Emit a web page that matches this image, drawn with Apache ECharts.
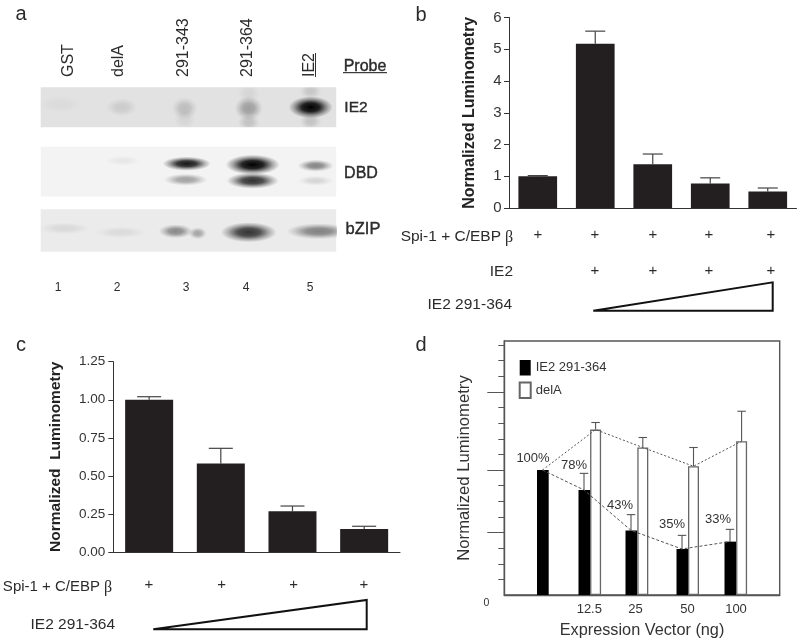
<!DOCTYPE html>
<html><head><meta charset="utf-8">
<script src="https://cdn.jsdelivr.net/npm/echarts@6/dist/echarts.min.js"></script>
<style>html,body{margin:0;padding:0;background:#fff}#c{width:800px;height:644px}</style></head>
<body><div id="c"></div>
<script>
// ---------- DATA ----------
// Panel a: lanes, probes and bands [x, y, rx, ry, darkness] per probe blot
const laneLabels = ['GST', 'delA', '291-343', '291-364', 'IE2'];
const laneNumbers = ['1', '2', '3', '4', '5'];
const probeLabels = ['IE2', 'DBD', 'bZIP'];
const bandsIE2 = [
  [20, 17, 24, 9, .03], [81, 20, 16, 9, .1], [144, 21, 13, 11, .16], [144, 32, 11, 10, .06],
  [208, 21, 14, 12, .3], [208, 6, 11, 9, .06], [208, 35, 11, 8, .14],
  [270, 20, 22, 11, 1], [270, 4, 11, 8, .12], [270, 34, 11, 8, .14]
];
const bandsDBD = [
  [82, 14, 18, 5, .05], [146, 17, 24, 7, .9], [145, 33, 22, 6, .33],
  [212, 18, 27, 10, 1], [212, 34, 26, 8, .8], [275, 19, 18, 6, .45], [275, 34, 18, 5, .12]
];
const bandsBZIP = [
  [24, 19, 26, 6, .08], [80, 23, 26, 6, .07], [135, 22, 17, 7, .42], [157, 24, 9, 6, .3],
  [208, 23, 28, 10, .78], [278, 22, 32, 8, .45]
];
// Panel b
const catsB = ['s1', 's2', 's3', 's4', 's5'];
const valuesB = [1.0, 5.17, 1.38, 0.77, 0.52];
const errTopB = [1.02, 5.57, 1.70, 0.95, 0.63];
const ticksB = ['0', '1', '2', '3', '4', '5', '6'];
const spiRowB = ['+', '+', '+', '+', '+'];
const ie2RowB = ['', '+', '+', '+', '+'];
// Panel c
const catsC = ['s1', 's2', 's3', 's4'];
const valuesC = [1.0, 0.582, 0.267, 0.151];
const errTopC = [1.02, 0.681, 0.302, 0.169];
const spiRowC = ['+', '+', '+', '+'];
// Panel d
const doseLabels = ['12.5', '25', '50', '100'];
const blackValues = [100, 84, 51.7, 36.8, 42.7];
const blackErrTop = [100, 97.3, 64.3, 47.7, 52.5];
const whiteValues = [132.3, 118, 103, 123];
const whiteErrTop = [138, 126, 118, 147];
const percentLabels = ['100%', '78%', '43%', '35%', '33%'];
const majorTicksD = [50, 100, 162.5];
const minorTicksD = [12.5, 25, 37.5, 62.5, 75, 87.5, 112.5, 125, 137.5, 150, 175, 187.5, 200];

// ---------- LAYOUT (pixels / axis slots, not data) ----------
const slotsBlackD = [38.2, 79.7, 126.7, 177.7, 225.7];
const slotsWhiteD = [91.3, 138.5, 189.2, 237.3];
const slotsLabelD = [85, 131.3, 183.3, 231.7];
const laneLabelX = [69, 119, 184, 248, 310];
const laneNumX = [58, 117, 186, 246, 310];
const plusXB = [538, 595, 653, 709, 771];
const plusXC = [149, 221.7, 293.7, 364];
const percentXY = [[533, 458], [574, 465], [620, 505], [672, 524], [718, 519]];

const FONT = '"Liberation Sans", Arial, sans-serif';
const TXT = '#2b2b2b';
const HEAVY = {style: {stroke: TXT, lineWidth: 0.4}};

function bandItem(params, api) {
  const c = api.coord([api.value(0), api.value(1)]);
  const s = api.size([api.value(2), api.value(3)]);
  const d = api.value(4);
  return {
    type: 'circle', shape: {cx: 0, cy: 0, r: 1}, x: c[0], y: c[1], scaleX: s[0], scaleY: s[1],
    style: {fill: {type: 'radial', x: .5, y: .5, r: .5, colorStops: [
      {offset: 0, color: 'rgba(0,0,0,' + d + ')'},
      {offset: .4, color: 'rgba(0,0,0,' + d * .85 + ')'},
      {offset: .75, color: 'rgba(0,0,0,' + d * .3 + ')'},
      {offset: 1, color: 'rgba(0,0,0,0)'}]}}
  };
}
function errItem(capW, color, lw) {
  return function (params, api) {
    const a = api.coord([api.value(0), api.value(1)]);
    const b = api.coord([api.value(0), api.value(2)]);
    const st = {stroke: color, lineWidth: lw, fill: null};
    return {type: 'group', children: [
      {type: 'line', shape: {x1: a[0], y1: a[1], x2: b[0], y2: b[1]}, style: st},
      {type: 'line', shape: {x1: b[0] - capW / 2, y1: b[1], x2: b[0] + capW / 2, y2: b[1]}, style: st}
    ]};
  };
}
function T(x, y, text, size, o) {
  return Object.assign({type: 'text', x, y, silent: true, style: Object.assign({
    text, font: size + 'px ' + FONT, fill: TXT,
    align: 'center', verticalAlign: 'middle'}, o && o.style)}, o && o.el);
}
function L(x1, y1, x2, y2, w, c) {
  return {type: 'line', silent: true, shape: {x1, y1, x2, y2}, style: {stroke: c || '#111', lineWidth: w}};
}
function tri(p1, p2, p3) {
  return {type: 'polygon', silent: true, shape: {points: [p1, p2, p3]}, style: {fill: '#fff', stroke: '#111', lineWidth: 2}};
}

const graphics = [
  T(21, 14, 'a', 20), T(421, 15, 'b', 20), T(21, 345, 'c', 20), T(421, 345, 'd', 20),
  T(365, 67, 'Probe', 16, HEAVY), L(343, 72.7, 387, 72.7, 1),
  L(315.5, 53, 315.5, 77, 1, '#333'),
  T(356, 108, probeLabels[0], 15.5, HEAVY), T(361, 174, probeLabels[1], 16, HEAVY), T(363, 229, probeLabels[2], 16.5, HEAVY),
  // panel b rows
  T(501, 237, 'Spi-1 + C/EBP', 15.5, {style: {align: 'right'}}),
  T(505, 238, 'β', 16, {style: {align: 'left', font: '16px "Liberation Serif", serif'}}),
  T(513, 272, 'IE2', 15.5, {style: {align: 'right'}}),
  T(512, 305, 'IE2 291-364', 15.5, {style: {align: 'right'}}),
  tri([593.3, 310.7], [772.7, 282.3], [772.7, 310.7]),
  // panel c rows
  T(100, 587, 'Spi-1 + C/EBP', 15, {style: {align: 'right'}}),
  T(104, 588, 'β', 16, {style: {align: 'left', font: '16px "Liberation Serif", serif'}}),
  T(115, 625, 'IE2 291-364', 15.5, {style: {align: 'right'}}),
  tri([153.3, 629.3], [366.7, 600], [366.7, 629.3])
];
laneLabels.forEach((s, i) => graphics.push(T(laneLabelX[i], 77, s, 16, {style: {align: 'left'}, el: {rotation: Math.PI / 2}})));
laneNumbers.forEach((s, i) => graphics.push(T(laneNumX[i], 288, s, 12)));
spiRowB.forEach((s, i) => graphics.push(T(plusXB[i], 235, s, 15)));
ie2RowB.forEach((s, i) => s && graphics.push(T(plusXB[i], 271, s, 15)));
spiRowC.forEach((s, i) => graphics.push(T(plusXC[i], 585, s, 15)));
percentLabels.forEach((s, i) => graphics.push(T(percentXY[i][0], percentXY[i][1], s, 13, {style: {fill: '#333'}})));

const hiddenAxis = (max, inverse) => ({type: 'value', min: 0, max, inverse: !!inverse, show: false});
const axisLine = {show: true, onZero: false, lineStyle: {color: '#333', width: 1}};

const option = {
  animation: false,
  backgroundColor: '#fff',
  textStyle: {fontFamily: FONT},
  grid: [
    {left: 40.7, top: 87.3, width: 295.5, height: 40, show: true, backgroundColor: '#e2e2e2', borderWidth: 0},
    {left: 40.7, top: 146.7, width: 295.5, height: 49.7, show: true, backgroundColor: '#f3f3f3', borderWidth: 0},
    {left: 40.7, top: 209.3, width: 295.5, height: 42.4, show: true, backgroundColor: '#ebebeb', borderWidth: 0},
    {left: 509, top: 17.5, width: 287.5, height: 190.5},
    {left: 113.3, top: 361.7, width: 286.7, height: 190.3},
    {left: 504.3, top: 341, width: 275.4, height: 254, show: true, backgroundColor: '#fff', borderColor: '#555', borderWidth: 1.4}
  ],
  xAxis: [
    Object.assign(hiddenAxis(295.5), {gridIndex: 0}),
    Object.assign(hiddenAxis(295.5), {gridIndex: 1}),
    Object.assign(hiddenAxis(295.5), {gridIndex: 2}),
    {gridIndex: 3, type: 'category', data: catsB, axisTick: {show: false}, axisLabel: {show: false}, axisLine},
    {gridIndex: 4, type: 'category', data: catsC, axisTick: {show: false}, axisLabel: {show: false}, axisLine},
    {gridIndex: 5, type: 'value', min: 0, max: 275.4, splitLine: {show: false},
      axisLine: {show: true, onZero: false, lineStyle: {color: '#555', width: 1.4}},
      axisTick: {show: false},
      axisLabel: {show: true, customValues: slotsLabelD, fontSize: 13, color: '#333', margin: 8,
        formatter: v => doseLabels[slotsLabelD.indexOf(v)]},
      name: 'Expression Vector (ng)', nameLocation: 'middle', nameGap: 28,
      nameTextStyle: {fontSize: 16.3, color: '#333'}}
  ],
  yAxis: [
    Object.assign(hiddenAxis(40, true), {gridIndex: 0}),
    Object.assign(hiddenAxis(49.7, true), {gridIndex: 1}),
    Object.assign(hiddenAxis(42.4, true), {gridIndex: 2}),
    {gridIndex: 3, type: 'value', min: 0, max: 6, interval: 1, splitLine: {show: false}, axisLine,
      axisTick: {show: true, length: 5, lineStyle: {color: '#333'}},
      axisLabel: {fontSize: 15, color: '#333', margin: 7.5, formatter: v => ticksB[v]},
      name: 'Normalized Luminometry', nameLocation: 'middle', nameGap: 31,
      nameTextStyle: {fontSize: 16, fontWeight: 'bold', color: '#222'}},
    {gridIndex: 4, type: 'value', min: 0, max: 1.25, interval: 0.25, splitLine: {show: false}, axisLine,
      axisTick: {show: true, length: 5, lineStyle: {color: '#333'}},
      axisLabel: {fontSize: 13.5, color: '#333', margin: 8, formatter: v => v.toFixed(2)},
      name: 'Normalized  Luminometry', nameLocation: 'middle', nameGap: 50,
      nameTextStyle: {fontSize: 15.5, fontWeight: 'bold', color: '#222'}},
    {gridIndex: 5, type: 'value', min: 0, max: 203.2, splitLine: {show: false},
      axisLine: {show: true, onZero: false, lineStyle: {color: '#555', width: 1.4}},
      axisTick: {show: true, customValues: majorTicksD, length: 17, lineStyle: {color: '#555', width: 1}},
      axisLabel: {show: true, customValues: [0], fontSize: 10.5, color: '#333', margin: 15, verticalAlign: 'top',
        padding: [3, 0, 0, 0], formatter: () => '0'},
      name: 'Normalized Luminometry', nameLocation: 'middle', nameGap: 31,
      nameTextStyle: {fontSize: 16.7, color: '#333'}},
    {gridIndex: 5, type: 'value', min: 0, max: 203.2, position: 'left', splitLine: {show: false},
      axisLine: {show: false}, axisLabel: {show: false},
      axisTick: {show: true, customValues: minorTicksD, length: 6, lineStyle: {color: '#555', width: 1}}}
  ],
  legend: {
    left: 518.7, top: 360, padding: 0, orient: 'vertical', itemWidth: 11, itemHeight: 15.5, itemGap: 6, selectedMode: false,
    icon: 'rect',
    data: ['IE2 291-364', 'delA'], textStyle: {fontSize: 13, color: '#333'}
  },
  graphic: graphics,
  series: [
    {type: 'custom', xAxisIndex: 0, yAxisIndex: 0, clip: true, renderItem: bandItem, data: bandsIE2, silent: true},
    {type: 'custom', xAxisIndex: 1, yAxisIndex: 1, clip: true, renderItem: bandItem, data: bandsDBD, silent: true},
    {type: 'custom', xAxisIndex: 2, yAxisIndex: 2, clip: true, renderItem: bandItem, data: bandsBZIP, silent: true},
    {type: 'custom', xAxisIndex: 3, yAxisIndex: 3, z: 1, renderItem: errItem(20, '#444', 1.2),
      data: valuesB.map((v, i) => [i, v, errTopB[i]])},
    {type: 'bar', xAxisIndex: 3, yAxisIndex: 3, z: 2, data: valuesB, barWidth: 38.7, itemStyle: {color: '#231f20'}},
    {type: 'custom', xAxisIndex: 4, yAxisIndex: 4, z: 1, renderItem: errItem(24, '#444', 1.2),
      data: valuesC.map((v, i) => [i, v, errTopC[i]])},
    {type: 'bar', xAxisIndex: 4, yAxisIndex: 4, z: 2, data: valuesC, barWidth: 48, itemStyle: {color: '#231f20'}},
    {name: 'IE2 291-364', type: 'bar', xAxisIndex: 5, yAxisIndex: 5, z: 2, barWidth: 11.7, barGap: '-100%',
      data: blackValues.map((v, i) => [slotsBlackD[i], v]), itemStyle: {color: '#000'}},
    {name: 'delA', type: 'bar', xAxisIndex: 5, yAxisIndex: 5, z: 2, barWidth: 11, barGap: '-100%',
      data: whiteValues.map((v, i) => [slotsWhiteD[i], v]),
      itemStyle: {color: '#fff', borderColor: '#666', borderWidth: 1.3}},
    {type: 'custom', xAxisIndex: 5, yAxisIndex: 5, z: 1, renderItem: errItem(8.5, '#555', 1.1),
      data: blackValues.map((v, i) => [slotsBlackD[i], v, blackErrTop[i]]).slice(1)
        .concat(whiteValues.map((v, i) => [slotsWhiteD[i], v, whiteErrTop[i]]))},
    {type: 'line', xAxisIndex: 5, yAxisIndex: 5, z: 3, symbol: 'none', silent: true,
      data: blackValues.map((v, i) => [slotsBlackD[i], v]),
      lineStyle: {color: '#555', width: 1, type: [3, 2]}},
    {type: 'line', xAxisIndex: 5, yAxisIndex: 5, z: 3, symbol: 'none', silent: true,
      data: [[slotsBlackD[0], blackValues[0]]].concat(whiteValues.map((v, i) => [slotsWhiteD[i], v])),
      lineStyle: {color: '#555', width: 1, type: [2, 2]}}
  ]
};
const chart = echarts.init(document.getElementById('c'), null, {renderer: 'canvas'});
chart.setOption(option);
</script></body></html>
